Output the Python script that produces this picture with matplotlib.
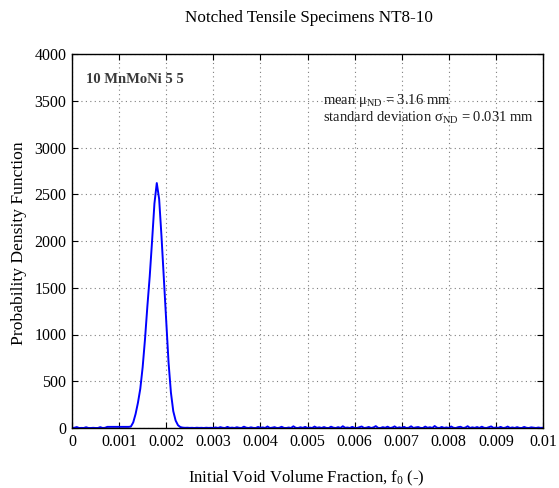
import numpy as np
import matplotlib
matplotlib.use("Agg")
import matplotlib.pyplot as plt

plt.rcParams['font.family'] = ['Liberation Serif', 'DejaVu Serif']
plt.rcParams['mathtext.fontset'] = 'custom'
plt.rcParams['mathtext.rm'] = 'Liberation Serif'
plt.rcParams['mathtext.it'] = 'Liberation Serif:italic'

# Estimated probability density of the initial void volume fraction
left_x = [0.0, 0.00005, 0.0001, 0.00015, 0.0002, 0.00025, 0.0003, 0.00035,
          0.0004, 0.00045, 0.0005, 0.00055, 0.0006, 0.00065, 0.0007, 0.00075, 0.0012]
left_pdf = [0, 2, 10, 0, 1, 0, 8, 0, 0, 2, 0, 0, 9, 0, 2, 12, 12]

peak_x = [0.00125, 0.0013, 0.00135, 0.0014, 0.00145, 0.0015, 0.00155, 0.0016,
          0.00165, 0.0017, 0.00175, 0.0018, 0.00185, 0.0019, 0.00195, 0.002,
          0.00205, 0.0021, 0.00215, 0.0022, 0.00225, 0.0023]
peak_pdf = [15, 60, 150, 270, 420, 650, 950, 1300,
            1620, 2000, 2400, 2620, 2450, 2050, 1600, 1150,
            700, 380, 180, 80, 30, 10]

tail_pdf = [4, 2, 3, 1, 2, 0, 3, 1, 2, 0, 3, 1, 2, 0,
            6, 0, 9, 2, 0, 12, 1, 4, 0, 8, 2, 0, 14, 3, 0, 7,
            1, 0, 11, 2, 6, 0, 16, 0, 3, 9, 0, 2, 13, 1, 0, 5,
            0, 18, 2, 0, 8, 1, 12, 0, 4, 0, 15, 2, 7, 0, 10, 1,
            0, 14, 3, 0, 9, 0, 19, 2, 5, 0, 12, 1, 0, 8, 16, 0,
            3, 11, 0, 6, 20, 1, 0, 9, 2, 14, 0, 4, 17, 0, 7, 1,
            12, 0, 3, 18, 0, 6, 10, 1, 0, 15, 2, 8, 0, 21, 3, 0,
            11, 1, 6, 0, 16, 2, 0, 9, 13, 0, 4, 19, 0, 7, 1, 10,
            0, 14, 2, 0, 8, 17, 0, 5, 1, 12, 0, 3, 15, 0, 6, 0,
            9, 1, 0, 11, 2, 0, 7, 4, 0, 5, 1, 3]
tail_x = [round(0.00235 + 0.00005 * i, 5) for i in range(154)]

x_vals = left_x + peak_x + tail_x
pdf_vals = left_pdf + peak_pdf + tail_pdf

x_ticks = [0, 0.001, 0.002, 0.003, 0.004, 0.005, 0.006, 0.007, 0.008, 0.009, 0.01]
x_ticklabels = ['0', '0.001', '0.002', '0.003', '0.004', '0.005', '0.006',
                '0.007', '0.008', '0.009', '0.01']
y_ticks = [0, 500, 1000, 1500, 2000, 2500, 3000, 3500, 4000]

W, H = 559, 488
fig = plt.figure(figsize=(W / 100, H / 100), dpi=100)
ax = fig.add_axes([72 / W, 1 - 428 / H, (543 - 72) / W, (428 - 54) / H])

ax.plot(x_vals, pdf_vals, color='#0000ff', linewidth=1.4)

ax.set_xlim(0, 0.01)
ax.set_ylim(0, 4000)
ax.set_xticks(x_ticks)
ax.set_xticklabels(x_ticklabels)
ax.set_yticks(y_ticks)
ax.tick_params(direction='in', length=4, width=0.8, top=True, right=True,
               labelsize=11.5, pad=4, colors='black')
ax.grid(True, color='#7f7f7f', linestyle=(0, (1, 3)), linewidth=0.8)
for s in ax.spines.values():
    s.set_linewidth(1.0)
    s.set_color('black')

ax.text(86 / W, 1 - 82.7 / H, '10 MnMoNi 5 5', transform=fig.transFigure,
        fontsize=10.5, fontweight='bold', color='#3a3a3a', va='baseline')
ax.text(323 / W, 1 - 104 / H, r'mean μ$_{\mathrm{ND}}$ = 3.16 mm',
        transform=fig.transFigure, fontsize=10.5, color='#1a1a1a', va='baseline')
ax.text(323 / W, 1 - 121.7 / H, r'standard deviation σ$_{\mathrm{ND}}$ = 0.031 mm',
        transform=fig.transFigure, fontsize=10.5, color='#1a1a1a', va='baseline')

fig.text(309 / W, 1 - 18 / H, 'Notched Tensile Specimens NT8-10',
         ha='center', va='center', fontsize=12.3)
fig.text(306 / W, 1 - 478 / H, r'Initial Void Volume Fraction, f$_0$ (-)',
         ha='center', va='center', fontsize=12)
fig.text(19 / W, 1 - 243 / H, 'Probability Density Function',
         ha='center', va='center', rotation=90, fontsize=12.6)

fig.savefig('out.png', dpi=100)
